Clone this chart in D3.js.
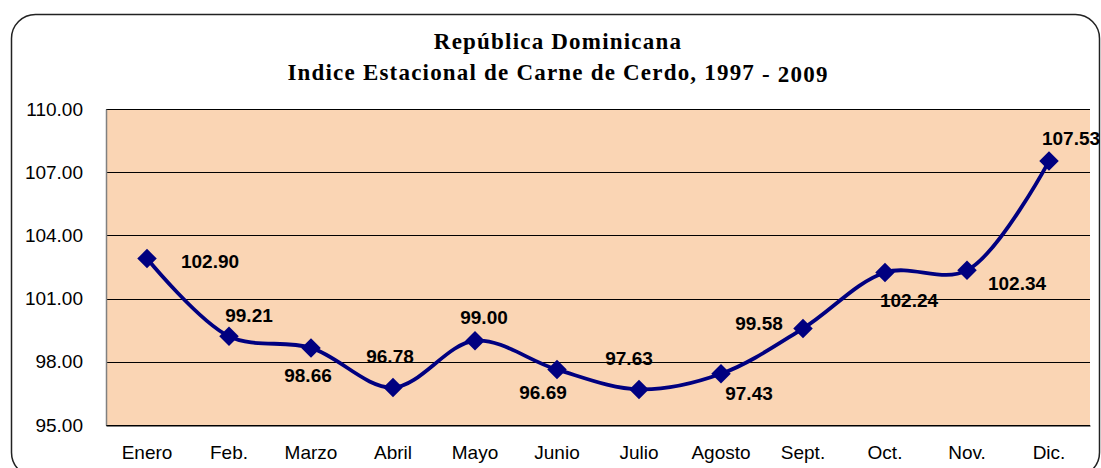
<!DOCTYPE html>
<html>
<head>
<meta charset="utf-8">
<script src="https://cdn.jsdelivr.net/npm/d3@7"></script>
<style>
  body { margin: 0; background: #fff; }
  svg { display: block; }
</style>
</head>
<body>
<svg id="chart" width="1101" height="468"></svg>
<script>
// ---- data ----
var months = ["Enero", "Feb.", "Marzo", "Abril", "Mayo", "Junio", "Julio", "Agosto", "Sept.", "Oct.", "Nov.", "Dic."];
var indexValues = [102.90, 99.21, 98.66, 96.78, 99.00, 97.63, 96.69, 97.43, 99.58, 102.24, 102.34, 107.53];
// text printed next to each point (as in the original sheet)
var pointLabels = ["102.90", "99.21", "98.66", "96.78", "99.00", "96.69", "97.63", "97.43", "99.58", "102.24", "102.34", "107.53"];
var yTicks = [95, 98, 101, 104, 107, 110];

// label placement relative to its marker (dx, dy of the text baseline centre)
var labelOffsets = [[63, 9], [20, -14], [-3, 34], [-3, -25], [9, -17], [-14, 29], [-10, -24], [28, 26], [-44, 1], [24, 35], [50, 20], [22, -16]];

var svg = d3.select("#chart");
var margin = { left: 106, right: 11, top: 109, bottom: 43 };
var W = 1101, H = 468;
var sans = "Arial, 'Liberation Sans', sans-serif";

// outer rounded frame
svg.append("rect")
    .attr("x", 11.5).attr("y", 14.5)
    .attr("width", 1088).attr("height", 462)
    .attr("rx", 24).attr("ry", 24)
    .attr("fill", "#fff")
    .attr("stroke", "#222")
    .attr("stroke-width", 1.5);

var x = d3.scaleBand().domain(months).range([margin.left, W - margin.right]);
var y = d3.scaleLinear().domain([95, 110]).range([H - margin.bottom, margin.top]);

// plot area
svg.append("rect")
    .attr("x", margin.left).attr("y", margin.top)
    .attr("width", W - margin.right - margin.left)
    .attr("height", y(95) - y(110))
    .attr("fill", "#FAD5B4");

// gridlines
svg.append("g")
    .selectAll("line")
    .data(yTicks)
    .enter().append("line")
    .attr("x1", margin.left).attr("x2", W - margin.right)
    .attr("y1", function(d) { return Math.round(y(d)) + 0.5; })
    .attr("y2", function(d) { return Math.round(y(d)) + 0.5; })
    .attr("stroke", "#000")
    .attr("stroke-width", 1);

// y axis
var yAxis = svg.append("g")
    .attr("transform", "translate(" + margin.left + ",0)")
    .call(d3.axisLeft(y).tickValues(yTicks).tickSize(0).tickPadding(23).tickFormat(d3.format(".2f")));
yAxis.select(".domain").attr("stroke", "#808080").attr("stroke-width", 1.5);
yAxis.selectAll("text")
    .attr("font-family", sans)
    .attr("font-size", "19px")
    .attr("fill", "#000");

// x axis
var xAxis = svg.append("g")
    .attr("transform", "translate(0," + (y(95) + 0.5) + ")")
    .call(d3.axisBottom(x).tickSize(0).tickPadding(20));
xAxis.select(".domain").attr("stroke", "#000").attr("stroke-width", 1);
xAxis.selectAll("text")
    .attr("font-family", sans)
    .attr("font-size", "19px")
    .attr("fill", "#000");

// smoothed series line
var line = d3.line()
    .x(function(d, i) { return x(months[i]) + x.bandwidth() / 2; })
    .y(function(d) { return y(d); })
    .curve(d3.curveCatmullRom.alpha(0.5));

svg.append("path")
    .datum(indexValues)
    .attr("d", line)
    .attr("fill", "none")
    .attr("stroke", "#000080")
    .attr("stroke-width", 3.8);

// diamond markers
svg.selectAll(".marker")
    .data(indexValues)
    .enter().append("path")
    .attr("class", "marker")
    .attr("d", d3.symbol().type(d3.symbolSquare).size(190))
    .attr("transform", function(d, i) {
        return "translate(" + (x(months[i]) + x.bandwidth() / 2) + "," + y(d) + ") rotate(45)";
    })
    .attr("fill", "#000080");

// point labels
svg.selectAll(".pt-label")
    .data(indexValues)
    .enter().append("text")
    .attr("class", "pt-label")
    .attr("x", function(d, i) { return x(months[i]) + x.bandwidth() / 2 + labelOffsets[i][0]; })
    .attr("y", function(d, i) { return y(d) + labelOffsets[i][1]; })
    .attr("text-anchor", "middle")
    .attr("font-family", sans)
    .attr("font-weight", "bold")
    .attr("font-size", "19px")
    .attr("fill", "#000")
    .text(function(d, i) { return pointLabels[i]; });

// title
var title = svg.append("g")
    .attr("font-family", "'Times New Roman', 'Liberation Serif', serif")
    .attr("font-weight", "bold")
    .attr("font-size", "23px")
    .attr("letter-spacing", "1.2px")
    .attr("fill", "#000")
    .attr("text-anchor", "middle");
title.append("text").attr("x", 558).attr("y", 49).text("República Dominicana");
var t2 = title.append("text").attr("x", 558).attr("y", 80);
t2.append("tspan").text("Indice Estacional de Carne de Cerdo, 1997 ");
t2.append("tspan").attr("dy", 2).text("- 2009");
</script>
</body>
</html>
